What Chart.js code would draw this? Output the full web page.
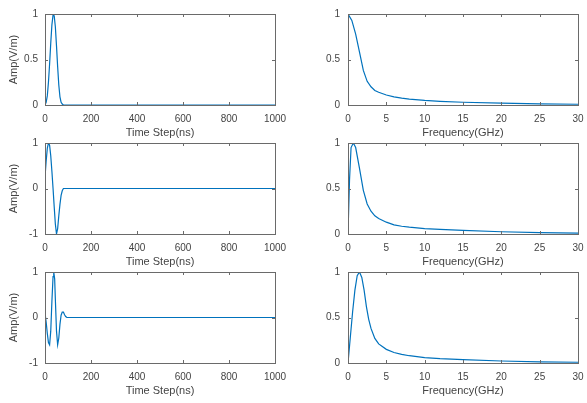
<!DOCTYPE html>
<html>
<head>
<meta charset="utf-8">
<script src="https://cdn.jsdelivr.net/npm/chart.js@4"></script>
<style>
  body { margin: 0; background: #fff; width: 587px; height: 403px; position: relative; overflow: hidden; }
  canvas { position: absolute; }
</style>
</head>
<body>
<canvas id="c1" width="290" height="140" style="left:0;top:0"></canvas>
<canvas id="c2" width="297" height="140" style="left:290px;top:0"></canvas>
<canvas id="c3" width="290" height="140" style="left:0;top:129px"></canvas>
<canvas id="c4" width="297" height="140" style="left:290px;top:129px"></canvas>
<canvas id="c5" width="290" height="140" style="left:0;top:258px"></canvas>
<canvas id="c6" width="297" height="140" style="left:290px;top:258px"></canvas>
<script>
"use strict";

// time domain (ns)
const gaussTime = [0, 5, 10, 15, 20, 25, 30, 35, 40, 45, 50, 55, 60, 65, 70, 75, 80, 100, 1000];
const gaussAmp = [0, 0.03, 0.1, 0.25, 0.45, 0.68, 0.88, 0.99, 0.98, 0.86, 0.65, 0.42, 0.22, 0.09, 0.03, 0.01, 0, 0, 0];

const diffTime = [0, 5, 10, 15, 20, 25, 30, 35, 40, 45, 50, 55, 60, 65, 70, 75, 80, 1000];
const diffAmp = [0.25, 0.6, 0.88, 1.0, 0.95, 0.72, 0.38, 0.0, -0.4, -0.78, -1.0, -0.88, -0.6, -0.35, -0.15, -0.05, 0, 0];

const rickerTime = [0, 5, 10, 15, 20, 25, 30, 35, 38, 42, 45, 50, 55, 60, 65, 70, 75, 80, 85, 90, 95, 1000];
const rickerAmp = [0.1, -0.1, -0.35, -0.55, -0.6, -0.3, 0.35, 0.9, 1.0, 0.85, 0.4, -0.3, -0.6, -0.45, -0.15, 0.05, 0.12, 0.12, 0.06, 0.02, 0, 0];

// frequency domain (GHz)
const gaussFreq = [0, 0.5, 1, 1.5, 2, 2.5, 3, 3.5, 4, 5, 6, 7, 8, 10, 12, 15, 20, 25, 30];
const gaussSpec = [1, 0.93, 0.78, 0.58, 0.38, 0.26, 0.2, 0.16, 0.14, 0.11, 0.09, 0.075, 0.065, 0.05, 0.04, 0.03, 0.02, 0.012, 0.008];

const diffFreq = [0, 0.2, 0.4, 0.7, 1, 1.5, 2, 2.5, 3, 3.5, 4, 5, 6, 7, 8, 10, 12, 15, 20, 25, 30];
const diffSpec = [0, 0.6, 0.95, 1.0, 0.95, 0.72, 0.48, 0.33, 0.25, 0.2, 0.17, 0.13, 0.1, 0.085, 0.075, 0.06, 0.05, 0.04, 0.025, 0.015, 0.01];

const rickerFreq = [0, 0.3, 0.6, 0.9, 1.2, 1.5, 1.8, 2.1, 2.4, 2.7, 3, 3.5, 4, 5, 6, 7, 8, 10, 12, 15, 20, 25, 30];
const rickerSpec = [0, 0.28, 0.56, 0.8, 0.96, 1.0, 0.94, 0.8, 0.62, 0.48, 0.38, 0.27, 0.21, 0.15, 0.115, 0.095, 0.08, 0.06, 0.048, 0.036, 0.022, 0.013, 0.008];

const lineColor = "#0072BD";
const textColor = "#444";
const fontFamily = "'Liberation Sans', Arial, sans-serif";

const boxPlugin = {
  id: "box",
  afterDatasetsDraw(chart) {
    const { ctx, chartArea: a, scales } = chart;
    ctx.save();
    ctx.strokeStyle = "#6a6a6a";
    ctx.lineWidth = 1;
    ctx.strokeRect(Math.round(a.left) + 0.5, Math.round(a.top) + 0.5, Math.round(a.width), Math.round(a.height));
    ctx.beginPath();
    scales.x.ticks.forEach((t) => {
      const px = Math.round(scales.x.getPixelForValue(t.value)) + 0.5;
      ctx.moveTo(px, a.bottom); ctx.lineTo(px, a.bottom - 3);
      ctx.moveTo(px, a.top); ctx.lineTo(px, a.top + 3);
    });
    scales.y.ticks.forEach((t) => {
      const py = Math.round(scales.y.getPixelForValue(t.value)) + 0.5;
      ctx.moveTo(a.left, py); ctx.lineTo(a.left + 3, py);
      ctx.moveTo(a.right, py); ctx.lineTo(a.right - 3, py);
    });
    ctx.stroke();
    ctx.restore();
  },
};

function makeChart(id, xs, ys, opts) {
  const points = xs.map((x, i) => ({ x: x, y: ys[i] }));
  return new Chart(document.getElementById(id), {
    type: "line",
    data: {
      datasets: [{
        data: points,
        borderColor: lineColor,
        borderWidth: 1.2,
        pointRadius: 0,
        tension: 0,
        fill: false,
      }],
    },
    options: {
      responsive: false,
      animation: false,
      devicePixelRatio: 1,
      layout: { padding: { top: 14, right: opts.right, left: 0, bottom: 0 } },
      plugins: { legend: { display: false }, tooltip: { enabled: false } },
      scales: {
        x: {
          type: "linear",
          min: 0,
          max: opts.xMax,
          grid: { display: false, drawTicks: false },
          border: { display: false },
          ticks: {
            stepSize: opts.xStep, color: textColor, padding: 8, maxRotation: 0,
            font: { family: fontFamily, size: 10 },
            callback: (v) => String(v),
          },
          title: { display: true, text: opts.xTitle, color: textColor, padding: { top: 0, bottom: 0 }, font: { family: fontFamily, size: 11 } },
          afterFit: (s) => { s.height = 35; s.paddingLeft = 0; s.paddingRight = 0; },
        },
        y: {
          min: opts.yMin,
          max: 1,
          grid: { display: false, drawTicks: false },
          border: { display: false },
          ticks: {
            stepSize: opts.yStep, color: textColor, padding: opts.yPad,
            font: { family: fontFamily, size: 10 },
            callback: (v) => String(v),
          },
          title: { display: opts.yTitle !== "", text: opts.yTitle, color: textColor, padding: { top: 7, bottom: 0 }, font: { family: fontFamily, size: 11 } },
          afterFit: (s) => { s.width = opts.yWidth; s.paddingTop = 0; s.paddingBottom = 0; },
        },
      },
    },
    plugins: [boxPlugin],
  });
}

const leftOpts = { right: 15, xMax: 1000, xStep: 200, xTitle: "Time Step(ns)", yTitle: "Amp(V/m)", yWidth: 45, yPad: 7 };
const rightOpts = { right: 9, xMax: 30, xStep: 5, xTitle: "Frequency(GHz)", yTitle: "", yWidth: 58, yPad: 8, yMin: 0, yStep: 0.5 };

makeChart("c1", gaussTime, gaussAmp, Object.assign({}, leftOpts, { yMin: 0, yStep: 0.5 }));
makeChart("c2", gaussFreq, gaussSpec, rightOpts);
makeChart("c3", diffTime, diffAmp, Object.assign({}, leftOpts, { yMin: -1, yStep: 1 }));
makeChart("c4", diffFreq, diffSpec, rightOpts);
makeChart("c5", rickerTime, rickerAmp, Object.assign({}, leftOpts, { yMin: -1, yStep: 1 }));
makeChart("c6", rickerFreq, rickerSpec, rightOpts);
</script>
</body>
</html>
